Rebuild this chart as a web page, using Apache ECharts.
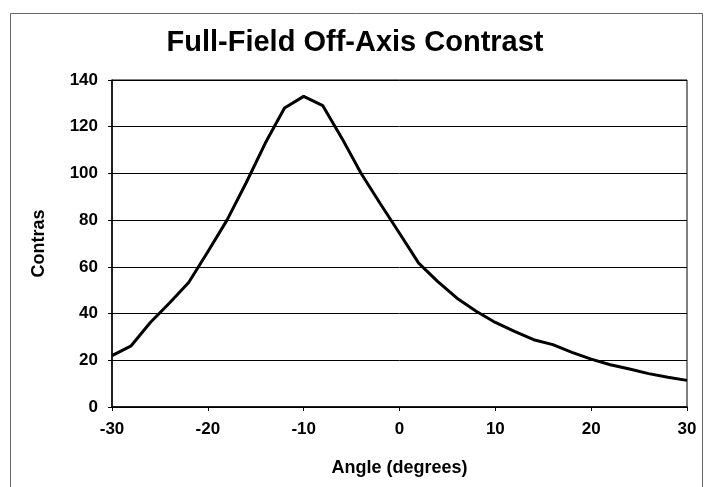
<!DOCTYPE html>
<html>
<head>
<meta charset="utf-8">
<script src="https://cdn.jsdelivr.net/npm/echarts@6/dist/echarts.min.js"></script>
<style>
  html, body { margin: 0; padding: 0; background: #fff; }
  #chart { width: 710px; height: 487px; }
</style>
</head>
<body>
<div id="chart"></div>
<script>
// angle in degrees, read at 2 degree steps
var angles = [-30, -28, -26, -24, -22, -20, -18, -16, -14, -12, -10, -8, -6, -4, -2,
  0, 2, 4, 6, 8, 10, 12, 14, 16, 18, 20, 22, 24, 26, 28, 30];
var contrast = [22, 26.2, 36.2, 44.5, 53.3, 66.5, 80, 96, 113, 128, 133, 129, 115, 100, 87,
  74.4, 61.6, 53.7, 46.6, 41, 36.2, 32.4, 28.8, 26.7, 23.4, 20.5, 18.1, 16.3, 14.3, 12.7, 11.4];
var xTicks = { min: -30, max: 30, step: 10 };
var yTicks = { min: 0, max: 140, step: 20 };

var font = "'Liberation Sans', Arial, sans-serif";

var chart = echarts.init(document.getElementById("chart"));

var option = {
  backgroundColor: "#fff",
  animation: false,
  title: {
    text: "Full-Field Off-Axis Contrast",
    left: "center",
    top: 23,
    textStyle: { fontFamily: font, fontSize: 29, fontWeight: "bold", color: "#000" }
  },
  graphic: [
    {
      type: "rect",
      left: 8, top: 11,
      shape: { width: 692, height: 480 },
      style: { fill: "none", stroke: "#666", lineWidth: 1 }
    }
  ],
  grid: {
    left: 112,
    right: 23,
    top: 80,
    bottom: 80,
    show: true,
    borderColor: "#000",
    borderWidth: 1
  },
  xAxis: {
    type: "value",
    min: xTicks.min,
    max: xTicks.max,
    interval: xTicks.step,
    name: "Angle (degrees)",
    nameLocation: "middle",
    nameGap: 52,
    nameTextStyle: { fontFamily: font, fontSize: 18, fontWeight: "bold", color: "#000" },
    axisLine: { onZero: false, lineStyle: { color: "#000", width: 1.5 } },
    axisTick: { show: true, length: 4, lineStyle: { color: "#000" } },
    axisLabel: { fontFamily: font, fontSize: 17, fontWeight: "bold", color: "#000", margin: 14 },
    splitLine: { show: false }
  },
  yAxis: {
    type: "value",
    min: yTicks.min,
    max: yTicks.max,
    interval: yTicks.step,
    name: "Contras",
    nameLocation: "middle",
    nameGap: 64,
    nameRotate: 90,
    nameTextStyle: { fontFamily: font, fontSize: 18, fontWeight: "bold", color: "#000" },
    axisLine: { show: true, onZero: false, lineStyle: { color: "#000", width: 1.5 } },
    axisTick: { show: true, length: 4, lineStyle: { color: "#000" } },
    axisLabel: { fontFamily: font, fontSize: 17, fontWeight: "bold", color: "#000", margin: 14 },
    splitLine: { show: true, lineStyle: { color: "#000", width: 1 } }
  },
  series: [
    {
      type: "line",
      data: angles.map(function (a, i) { return [a, contrast[i]]; }),
      showSymbol: false,
      lineStyle: { color: "#000", width: 3 },
      z: 5
    }
  ]
};

chart.setOption(option);
</script>
</body>
</html>
